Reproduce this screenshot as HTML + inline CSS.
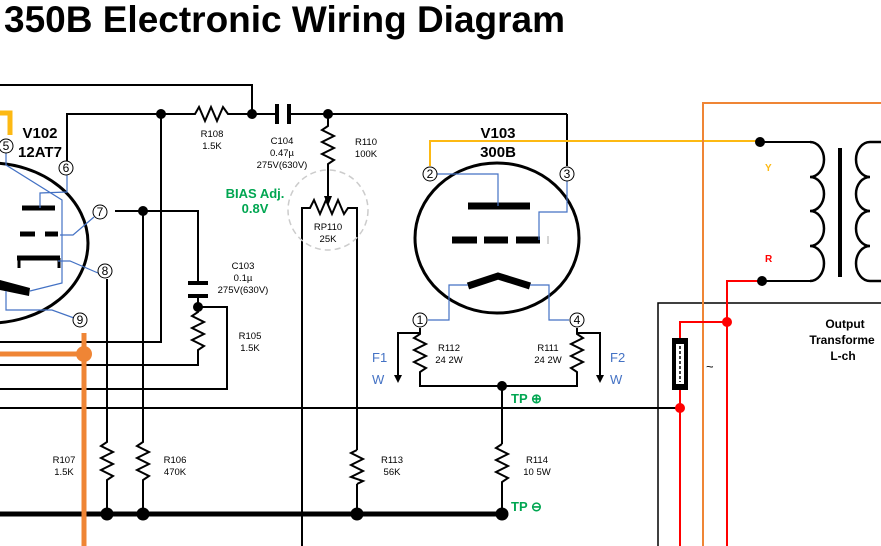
<!DOCTYPE html>
<html><head><meta charset="utf-8"><style>
html,body{margin:0;padding:0;background:#fff;}
svg{display:block;}
text{font-family:"Liberation Sans",Arial,sans-serif;}
</style></head><body>
<svg width="881" height="546" viewBox="0 0 881 546" xmlns="http://www.w3.org/2000/svg">
<rect width="881" height="546" fill="#fff"/>
<text x="4" y="32" font-size="37" font-weight="bold" fill="#000" textLength="561" lengthAdjust="spacingAndGlyphs">350B Electronic Wiring Diagram</text>

<g fill="none" stroke="#000" stroke-width="2">
<polyline points="0,85 252,85 252,114"/>
<polyline points="67,162 67,114 190,114"/>
<polyline points="190,114 195,114 199,107 205,121 211,107 217,121 223,107 228,114 276,114"/>
<line x1="290" y1="114" x2="567" y2="114"/>
<line x1="567" y1="114" x2="567" y2="166"/>
<polyline points="328,114 328,126 322,130 334,136 322,142 334,148 322,154 334,160 328,164 328,168"/>
<line x1="328" y1="168" x2="328" y2="198"/>
<polyline points="302,546 302,208 310,208 314,200 320,214 326,200 332,214 338,200 344,214 348,208 357,208 357,450"/>
<polyline points="357,484 357,514"/>
<polyline points="357,450 351,453 363,459 351,465 363,471 351,477 363,481 357,484"/>
<polyline points="115,211 198,211 198,283"/>
<polyline points="198,296 198,312 192,316 204,322 192,328 204,334 192,340 204,346 198,350 198,365 0,365"/>
<polyline points="198,307 227,307 227,389 0,389"/>
<polyline points="161,114 161,342 0,342"/>
<polyline points="143,211 143,442 137,446 149,452 137,458 149,464 137,470 149,476 143,480 143,514"/>
<polyline points="107,279 107,442 101,446 113,452 101,458 113,464 101,470 113,476 107,480 107,514"/>
<line x1="0" y1="408" x2="680" y2="408"/>
<polyline points="420,328 420,334 414,338 426,344 414,350 426,356 414,362 426,368 420,372 420,386 577,386 577,372 571,368 583,362 571,356 583,350 571,344 583,338 577,334 577,328"/>
<line x1="502" y1="386" x2="502" y2="444"/>
<polyline points="502,444 496,448 508,454 496,460 508,466 496,472 508,478 502,482 502,514"/>
<polyline points="420,333 398,333 398,377"/>
<polyline points="577,333 600,333 600,377"/>
<line x1="762" y1="142" x2="810" y2="142"/>
<line x1="764" y1="281" x2="810" y2="281"/>
<path d="M810,142 A14,17.5 0 0 1 810,177 A14,17 0 0 1 810,211 A14,17.5 0 0 1 810,246 A14,17.5 0 0 1 810,281" stroke-width="2.5"/>
<path d="M870,142 A14,17.5 0 0 0 870,177 A14,17 0 0 0 870,211 A14,17.5 0 0 0 870,246 A14,17.5 0 0 0 870,281" stroke-width="2.5"/>
<line x1="870" y1="142" x2="881" y2="142" stroke-width="2.5"/>
<line x1="870" y1="281" x2="881" y2="281" stroke-width="2.5"/>
<line x1="840" y1="148" x2="840" y2="277" stroke-width="4"/>
<polyline points="658,546 658,303 881,303" stroke-width="1.5"/>
</g>
<polygon points="394,375 402,375 398,383" fill="#000"/>
<polygon points="596,375 604,375 600,383" fill="#000"/>
<polygon points="324,196 332,196 328,206" fill="#000"/>
<line x1="277" y1="104" x2="277" y2="124" stroke="#000" stroke-width="4"/>
<line x1="289" y1="104" x2="289" y2="124" stroke="#000" stroke-width="4"/>
<line x1="188" y1="283" x2="208" y2="283" stroke="#000" stroke-width="4"/>
<line x1="188" y1="296" x2="208" y2="296" stroke="#000" stroke-width="4"/>
<line x1="0" y1="514" x2="502" y2="514" stroke="#000" stroke-width="5"/>
<circle cx="328" cy="210" r="40" fill="none" stroke="#ccc" stroke-width="1.5" stroke-dasharray="6,4"/>

<polyline points="0,354 84,354" stroke="#ef8535" stroke-width="5" fill="none"/>
<line x1="84" y1="333" x2="84" y2="546" stroke="#ef8535" stroke-width="5"/>
<circle cx="84" cy="354" r="8" fill="#ef8535"/>
<polyline points="0,113 10,113 10,135" stroke="#fdb913" stroke-width="5" fill="none"/>
<polyline points="430,166 430,141 760,141" stroke="#fdb913" stroke-width="2" fill="none"/>
<polyline points="703,546 703,103 881,103" stroke="#ef8535" stroke-width="2" fill="none"/>
<g stroke="#f00" stroke-width="2" fill="none">
<polyline points="762,281 727,281 727,546"/>
<polyline points="727,322 680,322 680,340"/>
<line x1="680" y1="390" x2="680" y2="546"/>
</g>
<circle cx="727" cy="322" r="5" fill="#f00"/>
<circle cx="680" cy="408" r="5" fill="#f00"/>
<rect x="672" y="338" width="16" height="52" fill="#000"/>
<rect x="676" y="344" width="8" height="40" fill="#fff"/>
<line x1="680" y1="346" x2="680" y2="382" stroke="#000" stroke-width="1.5" stroke-dasharray="3,2"/>
<text x="706" y="371" font-size="13">~</text>

<g fill="#000">
<circle cx="161" cy="114" r="5"/><circle cx="252" cy="114" r="5"/><circle cx="328" cy="114" r="5"/>
<circle cx="143" cy="211" r="5"/><circle cx="198" cy="307" r="5"/>
<circle cx="107" cy="514" r="6.5"/><circle cx="143" cy="514" r="6.5"/><circle cx="357" cy="514" r="6.5"/><circle cx="502" cy="514" r="6.5"/>
<circle cx="502" cy="386" r="5"/>
<circle cx="760" cy="142" r="5"/><circle cx="762" cy="281" r="5"/>
</g>

<ellipse cx="-10" cy="243" rx="98" ry="80" fill="none" stroke="#000" stroke-width="3"/>
<g stroke="#000" stroke-width="5">
<line x1="22" y1="208" x2="55" y2="208"/>
<line x1="20" y1="234" x2="35" y2="234"/><line x1="45" y1="234" x2="58" y2="234"/>
<line x1="17" y1="258" x2="60" y2="258"/>
</g>
<line x1="19" y1="258" x2="19" y2="268" stroke="#000" stroke-width="3"/>
<line x1="59" y1="258" x2="59" y2="268" stroke="#000" stroke-width="3"/>
<polygon points="0,280 30,288 29,296 0,290" fill="#000"/>
<g stroke="#4472c4" stroke-width="1.2" fill="none">
<polyline points="6,153 6,165 62,200 62,283 30,291"/>
<polyline points="67,175 67,192 40,193 40,208"/>
<polyline points="94,217 73,235 60,235"/>
<polyline points="98,273 70,261 58,261"/>
<polyline points="74,318 52,310 6,310 6,291"/>
</g>
<ellipse cx="497" cy="238" rx="82" ry="75" fill="none" stroke="#000" stroke-width="3"/>
<g stroke="#000" stroke-width="7">
<line x1="468" y1="206" x2="530" y2="206"/>
<line x1="452" y1="240" x2="477" y2="240"/><line x1="484" y1="240" x2="508" y2="240"/><line x1="516" y1="240" x2="540" y2="240"/>
<polyline points="468,286 498,276 530,286" fill="none"/>
</g>
<line x1="548" y1="236" x2="548" y2="244" stroke="#aaa" stroke-width="1"/>
<g stroke="#4472c4" stroke-width="1.2" fill="none">
<polyline points="437,174 498,174 498,206"/>
<polyline points="567,181 567,212 539,212 539,240"/>
<polyline points="428,320 449,320 449,285 468,285"/>
<polyline points="569,320 549,320 549,285 530,285"/>
</g>

<g fill="#fff" stroke="#000" stroke-width="1">
<circle cx="6" cy="146" r="7"/><circle cx="66" cy="168" r="7"/><circle cx="100" cy="212" r="7"/><circle cx="105" cy="271" r="7"/><circle cx="80" cy="320" r="7"/>
<circle cx="430" cy="174" r="7"/><circle cx="567" cy="174" r="7"/><circle cx="420" cy="320" r="7"/><circle cx="577" cy="320" r="7"/>
</g>
<g font-size="12" text-anchor="middle">
<text x="6" y="150">5</text><text x="66" y="172">6</text><text x="100" y="216">7</text><text x="105" y="275">8</text><text x="80" y="324">9</text>
<text x="430" y="178">2</text><text x="567" y="178">3</text><text x="420" y="324">1</text><text x="577" y="324">4</text>
</g>

<g font-size="15" font-weight="bold" text-anchor="middle">
<text x="40" y="138">V102</text><text x="40" y="157">12AT7</text>
<text x="498" y="138">V103</text><text x="498" y="157">300B</text>
</g>
<g font-size="9.5" text-anchor="middle">
<text x="212" y="137">R108</text><text x="212" y="149">1.5K</text>
<text x="282" y="144">C104</text><text x="282" y="156">0.47µ</text><text x="282" y="168">275V(630V)</text>
<text x="366" y="145">R110</text><text x="366" y="157">100K</text>
<text x="328" y="230">RP110</text><text x="328" y="242">25K</text>
<text x="243" y="269">C103</text><text x="243" y="281">0.1µ</text><text x="243" y="293">275V(630V)</text>
<text x="250" y="339">R105</text><text x="250" y="351">1.5K</text>
<text x="64" y="463">R107</text><text x="64" y="475">1.5K</text>
<text x="175" y="463">R106</text><text x="175" y="475">470K</text>
<text x="392" y="463">R113</text><text x="392" y="475">56K</text>
<text x="537" y="463">R114</text><text x="537" y="475">10 5W</text>
<text x="449" y="351">R112</text><text x="449" y="363">24 2W</text>
<text x="548" y="351">R111</text><text x="548" y="363">24 2W</text>
</g>
<g font-size="13" font-weight="bold" fill="#00a651" text-anchor="middle">
<text x="255" y="198">BIAS Adj.</text><text x="255" y="213">0.8V</text>
</g>
<g font-size="13" font-weight="bold" fill="#00a651">
<text x="511" y="403">TP ⊕</text><text x="511" y="511">TP ⊖</text>
</g>
<g font-size="13" fill="#4472c4">
<text x="372" y="362">F1</text><text x="372" y="384">W</text>
<text x="610" y="362">F2</text><text x="610" y="384">W</text>
</g>
<text x="765" y="171" font-size="10" font-weight="bold" fill="#fdb913">Y</text>
<text x="765" y="262" font-size="10" font-weight="bold" fill="#f00">R</text>
<g font-size="12" font-weight="bold" text-anchor="middle">
<text x="845" y="328">Output</text><text x="842" y="344">Transforme</text><text x="843" y="360">L-ch</text>
</g>
</svg>
</body></html>
